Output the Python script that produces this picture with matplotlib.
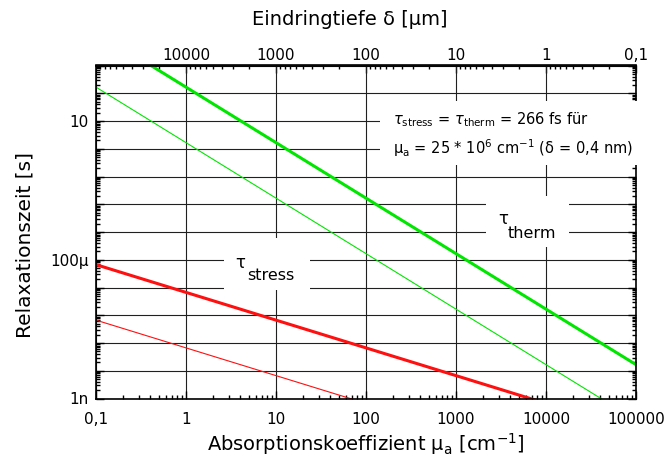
import numpy as np
import matplotlib
matplotlib.use('Agg')
import matplotlib.pyplot as plt
from matplotlib.patches import Rectangle
from matplotlib.ticker import NullFormatter, LogLocator

plt.rcParams['font.family'] = ['DejaVu Sans']
plt.rcParams['mathtext.fontset'] = 'dejavusans'

# absorption coefficient range [cm^-1] and relaxation times [s] at its ends
mu_a = [0.1, 1e5]
tau_therm_a = [1.66e4, 1.66e-8]
tau_therm_b = [1.66e2, 1.66e-10]
tau_stress_a = [6.67e-5, 6.67e-11]
tau_stress_b = [6.67e-7, 6.67e-13]

x_ticks = [0.1, 1, 10, 100, 1000, 10000, 100000]
x_labels = ['0,1', '1', '10', '100', '1000', '10000', '100000']
depth_ticks = [10000, 1000, 100, 10, 1, 0.1]
depth_labels = ['10000', '1000', '100', '10', '1', '0,1']
y_ticks = [1e-9, 1e-8, 1e-7, 1e-6, 1e-5, 1e-4, 1e-3, 1e-2, 1e-1, 1, 10, 100, 1000]
y_labels = ['1n', '', '', '', '', '100\u00b5', '', '', '', '', '10', '', '']

green = '#00e600'
red = '#ff1010'

fig = plt.figure(figsize=(6.72, 4.68), dpi=100)
ax = fig.add_axes([96 / 672, 1 - 398.5 / 468, 540 / 672, 333 / 468])
ax.set_xscale('log')
ax.set_yscale('log')
ax.set_xlim(0.1, 1e5)
ax.set_ylim(1e-9, 1e3)
ax.set_axisbelow(True)

ax.plot(mu_a, tau_therm_a, color=green, lw=2.2, solid_capstyle='butt')
ax.plot(mu_a, tau_therm_b, color=green, lw=0.8)
ax.plot(mu_a, tau_stress_a, color=red, lw=2.2, solid_capstyle='butt')
ax.plot(mu_a, tau_stress_b, color=red, lw=0.8)

ax.set_xticks(x_ticks, labels=x_labels)
ax.set_yticks(y_ticks, labels=y_labels)
ax.xaxis.set_minor_locator(LogLocator(base=10, subs=np.arange(2, 10)))
ax.yaxis.set_minor_locator(LogLocator(base=10, subs=np.arange(2, 10), numticks=30))
ax.xaxis.set_minor_formatter(NullFormatter())
ax.yaxis.set_minor_formatter(NullFormatter())
ax.tick_params(which='both', direction='in', right=True, top=False,
               labelsize=11, width=1)
ax.tick_params(which='major', length=6)
ax.tick_params(which='minor', length=3)
ax.tick_params(axis='x', which='major', pad=10)
ax.tick_params(axis='y', which='major', pad=5.5)
ax.grid(True, which='major', color='#202020', lw=0.8)
for s in ax.spines.values():
    s.set_linewidth(1.2)


def depth(x):
    x = np.asarray(x, dtype=float)
    with np.errstate(divide='ignore'):
        return 1e4 / x


secax = ax.secondary_xaxis('top', functions=(depth, depth))
secax.set_xticks(depth_ticks, labels=depth_labels)
secax.xaxis.set_minor_formatter(NullFormatter())
secax.tick_params(which='both', direction='in', labelsize=11, width=1)
secax.tick_params(which='major', length=6, pad=1.5)
secax.tick_params(which='minor', length=3)
secax.spines['top'].set_linewidth(1.2)
secax.set_xlabel('Eindringtiefe \u03b4 [\u00b5m]', fontsize=14, labelpad=17, x=0.47)

ax.set_xlabel('Absorptionskoeffizient \u00b5$_\\mathrm{a}$ [cm$^{-1}$]',
              fontsize=14, labelpad=3)
ax.set_ylabel('Relaxationszeit [s]', fontsize=14.5, labelpad=11, y=0.46)

# white boxes that cut the grid around the labels
ax.add_patch(Rectangle((0.526, 0.701), 0.481, 0.192, transform=ax.transAxes,
                       fc='white', ec='none', zorder=2.6, clip_on=False))
ax.add_patch(Rectangle((0.722, 0.455), 0.154, 0.153, transform=ax.transAxes,
                       fc='white', ec='none', zorder=1))
ax.add_patch(Rectangle((0.237, 0.326), 0.159, 0.156, transform=ax.transAxes,
                       fc='white', ec='none', zorder=1))

ax.text(0.55, 0.836, r'$\tau_{\mathrm{stress}}$ = $\tau_{\mathrm{therm}}$ = 266 fs für',
        transform=ax.transAxes, fontsize=10.5, va='center', ha='left', zorder=3)
ax.text(0.55, 0.752, '\u00b5$_\\mathrm{a}$ = 25 * 10$^6$ cm$^{-1}$ (\u03b4 = 0,4 nm)',
        transform=ax.transAxes, fontsize=10.5, va='center', ha='left', zorder=3)

# curve labels: tau with a lowered subscript
ax.text(0.267, 0.407, '\u03c4', transform=ax.transAxes, fontsize=12,
        ha='center', va='center', zorder=3)
ax.text(0.324, 0.368, 'stress', transform=ax.transAxes, fontsize=11.5,
        ha='center', va='center', zorder=3)
ax.text(0.754, 0.540, '\u03c4', transform=ax.transAxes, fontsize=12,
        ha='center', va='center', zorder=3)
ax.text(0.807, 0.494, 'therm', transform=ax.transAxes, fontsize=11.5,
        ha='center', va='center', zorder=3)

fig.savefig('out.png', dpi=100)
